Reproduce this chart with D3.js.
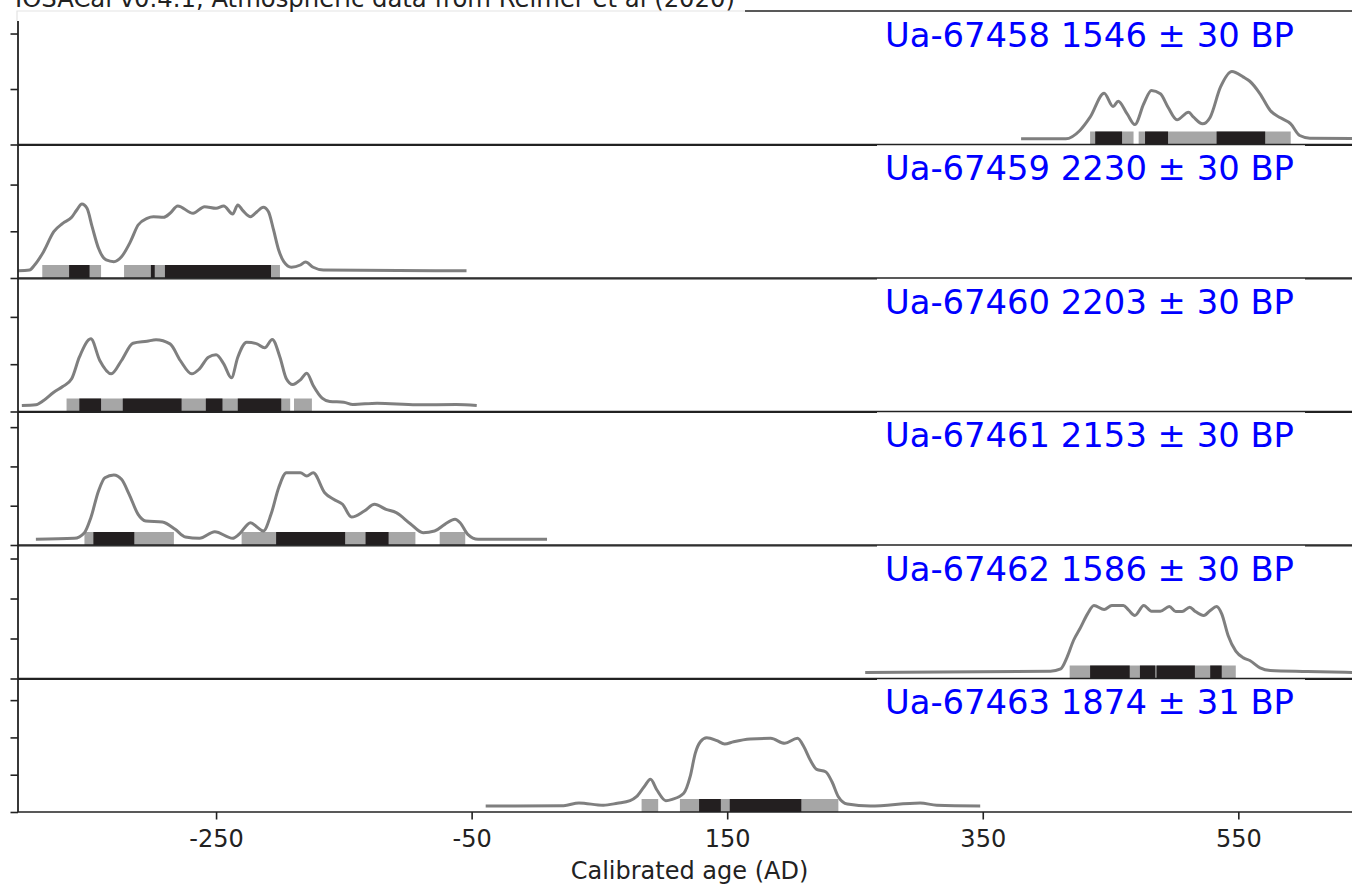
<!DOCTYPE html>
<html><head><meta charset="utf-8">
<script src="https://cdn.jsdelivr.net/npm/d3@7"></script>
<style>body{margin:0;background:#fff} svg{display:block;font-family:"DejaVu Sans",sans-serif}</style>
</head><body><svg id="c" width="1352" height="886"></svg>
<script>
// ---------- data ----------
const titleText = "IOSACal v0.4.1, Atmospheric data from Reimer et al (2020)";
const xLabel = "Calibrated age (AD)";
const xTicks = [-250, -50, 150, 350, 550];
const xDomain = [-405, 646];
const labels = ["Ua-67458 1546 ± 30 BP","Ua-67459 2230 ± 30 BP","Ua-67460 2203 ± 30 BP",
                "Ua-67461 2153 ± 30 BP","Ua-67462 1586 ± 30 BP","Ua-67463 1874 ± 31 BP"];
const yMax = [0.01203, 0.01429, 0.01411, 0.01699, 0.01669, 0.01790];
const yTicks = [[0,0.005,0.01],[0,0.005,0.01],[0,0.005,0.01],
                [0,0.005,0.01,0.015],[0,0.005,0.01,0.015],[0,0.005,0.01,0.015]];

const curve67458 = [[380,0.00051],[415,0.00051],[426,0.00126],[434,0.00246],[445,0.00462],[452,0.00342],
 [456,0.0039],[463,0.00276],[469,0.0018],[476,0.00367],[482,0.00486],[489,0.00457],[495,0.00336],
 [502,0.00222],[511,0.00291],[515,0.00246],[522,0.00186],[528,0.00246],[536,0.00516],[545,0.00658],
 [554,0.00607],[559,0.0057],[567,0.00457],[575,0.00306],[583,0.0024],[591,0.00186],[598,0.00081],
 [606,0.00057],[639,0.00054]];
const hpd95_67458 = [[434,468],[472,591]];
const hpd68_67458 = [[438,459],[477,495],[533,571]];

const curve67459 = [[-405,0.00078],[-396,0.00086],[-392,0.00139],[-385,0.00282],[-377,0.00496],[-370,0.00585],
 [-363,0.0065],[-359,0.00728],[-355,0.00792],[-351,0.00746],[-347,0.0055],[-342,0.00318],[-336,0.00193],
 [-330,0.00175],[-324,0.00228],[-317,0.00389],[-311,0.00567],[-304,0.00639],[-299,0.00656],[-291,0.0065],
 [-286,0.00693],[-280,0.00771],[-268,0.00693],[-259,0.00764],[-250,0.00746],[-244,0.00771],[-237,0.00685],
 [-233,0.00782],[-229,0.00721],[-223,0.00656],[-218,0.0071],[-213,0.00757],[-209,0.0071],[-205,0.00514],
 [-201,0.003],[-197,0.00175],[-191,0.00115],[-184,0.00139],[-180,0.00171],[-174,0.00115],[-166,0.00086],
 [-54,0.00078]];
const hpd95_67459 = [[-386,-340],[-322,-200]];
const hpd68_67459 = [[-365,-349],[-301,-298],[-290,-207]];

const curve67460 = [[-402,0.00063],[-391,0.00071],[-385,0.00116],[-377,0.00204],[-370,0.00264],[-363,0.00346],
 [-357,0.00574],[-348,0.00768],[-341,0.00539],[-332,0.00398],[-324,0.00539],[-315,0.00722],[-304,0.00743],
 [-297,0.00758],[-286,0.00715],[-278,0.00539],[-269,0.00398],[-263,0.00451],[-256,0.00574],[-250,0.00599],
 [-244,0.00504],[-238,0.00356],[-233,0.00574],[-226,0.00733],[-218,0.00715],[-212,0.00673],[-206,0.00761],
 [-200,0.00574],[-195,0.00346],[-190,0.00285],[-184,0.00335],[-179,0.00405],[-174,0.00275],[-167,0.00141],
 [-161,0.00106],[-150,0.00098],[-143,0.00074],[-124,0.00088],[-93,0.00071],[-62,0.00074],[-46,0.00063]];
const hpd95_67460 = [[-367,-192],[-189,-175]];
const hpd68_67460 = [[-357,-340],[-323,-277],[-258,-245],[-233,-199]];

const curve67461 = [[-391,0.00073],[-361,0.00085],[-353,0.00157],[-348,0.00347],[-342,0.00687],[-337,0.00856],
 [-330,0.00891],[-324,0.00836],[-318,0.00645],[-311,0.0039],[-305,0.00305],[-292,0.00292],[-282,0.002],
 [-274,0.00102],[-263,0.00085],[-251,0.00169],[-237,0.00085],[-232,0.00136],[-223,0.00284],[-218,0.00229],
 [-213,0.00178],[-207,0.0039],[-201,0.00729],[-195,0.0092],[-184,0.0092],[-179,0.00878],[-174,0.0092],
 [-165,0.00666],[-158,0.00581],[-151,0.00518],[-144,0.00356],[-134,0.00433],[-126,0.00518],[-117,0.00454],
 [-109,0.00411],[-98,0.00271],[-88,0.00157],[-79,0.00178],[-71,0.00263],[-63,0.00327],[-59,0.00284],
 [-53,0.00136],[-45,0.00073],[9,0.00073]];
const hpd95_67461 = [[-353,-283],[-230,-94],[-75,-55]];
const hpd68_67461 = [[-346,-314],[-203,-149],[-133,-115]];

const curve67462 = [[258,0.00075],[403,0.00092],[411,0.00121],[416,0.00267],[421,0.00475],[426,0.00621],
 [432,0.00808],[437,0.00913],[445,0.00863],[451,0.00913],[460,0.00913],[464,0.00858],[469,0.00788],
 [476,0.00913],[482,0.00842],[489,0.00842],[496,0.009],[501,0.00838],[506,0.00838],[512,0.00892],
 [516,0.00842],[523,0.00788],[528,0.0085],[533,0.009],[537,0.00808],[542,0.00538],[548,0.00342],
 [554,0.00258],[559,0.00225],[567,0.00133],[575,0.001],[604,0.00088],[639,0.00075]];
const hpd95_67462 = [[418,548]];
const hpd68_67462 = [[434,465],[473,485],[486,516],[528,537]];

const curve67463 = [[-39,0.0008],[22,0.00085],[34,0.00121],[53,0.0009],[64,0.00117],[74,0.00152],[79,0.00205],
 [85,0.00339],[90,0.00438],[95,0.00295],[102,0.00152],[107,0.0017],[116,0.00251],[121,0.00473],[125,0.00787],
 [129,0.00942],[134,0.00996],[142,0.00956],[148,0.00912],[155,0.00942],[168,0.00979],[184,0.00988],
 [195,0.00921],[205,0.00988],[210,0.00875],[215,0.00697],[220,0.00572],[227,0.0054],[232,0.00406],
 [237,0.00205],[244,0.00107],[262,0.0008],[301,0.00121],[314,0.0009],[348,0.0008]];
const hpd95_67463 = [[83,96],[113,237]];
const hpd68_67463 = [[128,145],[152,208]];

const panels = [
  {label:labels[0], curve:curve67458, h95:hpd95_67458, h68:hpd68_67458},
  {label:labels[1], curve:curve67459, h95:hpd95_67459, h68:hpd68_67459},
  {label:labels[2], curve:curve67460, h95:hpd95_67460, h68:hpd68_67460},
  {label:labels[3], curve:curve67461, h95:hpd95_67461, h68:hpd68_67461},
  {label:labels[4], curve:curve67462, h95:hpd95_67462, h68:hpd68_67462},
  {label:labels[5], curve:curve67463, h95:hpd95_67463, h68:hpd68_67463}
];

// ---------- layout ----------
const svg = d3.select("#c");
const axisColor = "#222";
const left = 18, right = 1361, top0 = 11, panelH = 133.5, barH = 13;
const x = d3.scaleLinear().domain(xDomain).range([left, right]);

panels.forEach((p, i) => {
  const top = top0 + i * panelH, bottom = top + panelH;
  const y = d3.scaleLinear().domain([0, yMax[i]]).range([bottom, top]);
  const g = svg.append("g");

  g.selectAll("rect.h95").data(p.h95).join("rect")
    .attr("x", d => x(d[0])).attr("width", d => x(d[1]) - x(d[0]))
    .attr("y", bottom - barH).attr("height", barH).attr("fill", "#a6a6a6");
  g.selectAll("rect.h68").data(p.h68).join("rect")
    .attr("x", d => x(d[0])).attr("width", d => x(d[1]) - x(d[0]))
    .attr("y", bottom - barH).attr("height", barH).attr("fill", "#231f20");

  const line = d3.line().x(d => x(d[0])).y(d => y(d[1])).curve(d3.curveMonotoneX);
  g.append("path").datum(p.curve).attr("d", line)
    .attr("fill", "none").attr("stroke", "#7f7f7f").attr("stroke-width", 3)
    .attr("stroke-linejoin", "round");

  // y axis (ticks only, no labels)
  const ya = g.append("g").attr("transform", `translate(${left},0)`)
    .call(d3.axisLeft(y).tickValues(yTicks[i]).tickSize(7.5).tickFormat(""));
  ya.select(".domain").remove();
  ya.selectAll(".tick line").attr("stroke", axisColor).attr("stroke-width", 1.6);

  // spines
  g.append("line").attr("x1", left).attr("x2", left).attr("y1", top).attr("y2", bottom)
    .attr("stroke", axisColor).attr("stroke-width", 1.8);
  g.append("line").attr("x1", left).attr("x2", right).attr("y1", bottom).attr("y2", bottom)
    .attr("stroke", axisColor).attr("stroke-width", 1.3);
  if (i === 0) {
    g.append("line").attr("x1", left).attr("x2", right).attr("y1", top).attr("y2", top)
      .attr("stroke", axisColor).attr("stroke-width", 1.3);
  } else {
    [[left, 877], [1305, right]].forEach(s => {
      g.append("line").attr("x1", s[0]).attr("x2", s[1]).attr("y1", top + 0.9).attr("y2", top + 0.9)
        .attr("stroke", axisColor).attr("stroke-width", 1.3);
    });
  }

  g.append("text").attr("x", 1294).attr("y", top + 35.7)
    .attr("text-anchor", "end").attr("font-size", 33.8).attr("fill", "#0000ff")
    .text(p.label);
});

// x axis
const bottomY = top0 + panels.length * panelH;
const xa = svg.append("g").attr("transform", `translate(0,${bottomY})`)
  .call(d3.axisBottom(x).tickValues(xTicks).tickSize(7.5).tickPadding(10.5).tickFormat(d => String(d)));
xa.select(".domain").remove();
xa.selectAll(".tick line").attr("stroke", axisColor).attr("stroke-width", 1.6);
xa.selectAll(".tick text").attr("font-size", 24).attr("fill", axisColor)
  .attr("font-family", "DejaVu Sans");

svg.append("text").attr("x", (left + right) / 2).attr("y", 879)
  .attr("text-anchor", "middle").attr("font-size", 24).attr("fill", axisColor).text(xLabel);

// title box + title (clipped at the top edge, as in the reference)
svg.append("rect").attr("x", 17).attr("y", -5).attr("width", 728).attr("height", 26).attr("fill", "#fff");
svg.append("path").attr("d", "M17,21V11H745").attr("fill", "none").attr("stroke", "#e3e3e3").attr("stroke-width", 1.2);
svg.append("text").attr("x", 15).attr("y", 7.3).attr("font-size", 24).attr("fill", axisColor)
  .attr("textLength", 720).attr("lengthAdjust", "spacingAndGlyphs").text(titleText);
</script></body></html>
